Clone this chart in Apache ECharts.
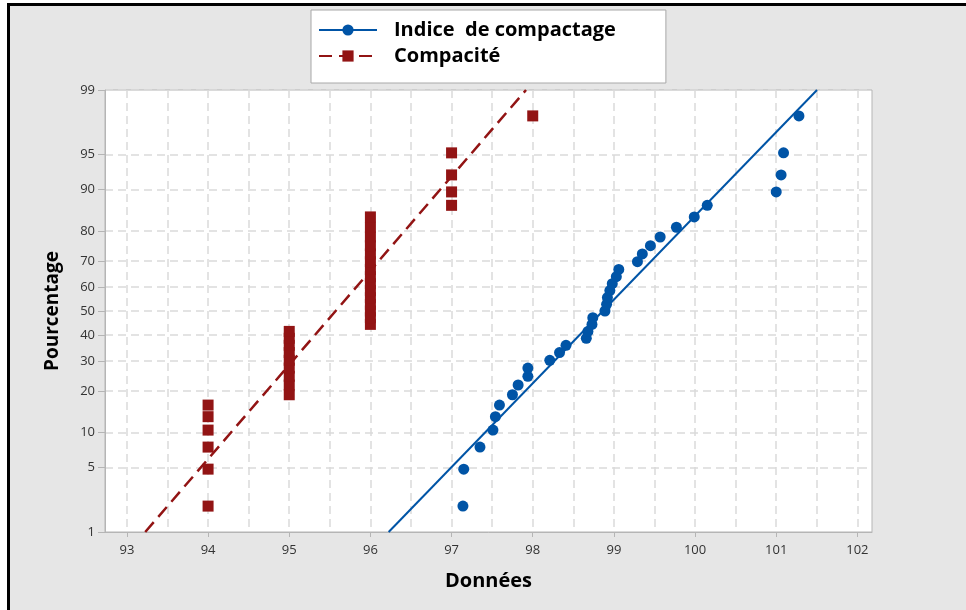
<!DOCTYPE html>
<html>
<head>
<meta charset="utf-8">
<script src="https://cdn.jsdelivr.net/npm/echarts@6/dist/echarts.min.js"></script>
<style>
  html, body { margin: 0; padding: 0; background: #fff; }
  #chart { width: 966px; height: 610px; }
</style>
</head>
<body>
<div id="chart"></div>
<script>
// Probability plot (normal) - two samples of 35 values
var nomIndice = "Indice  de compactage";
var nomCompacite = "Compacité";

// plotting positions in % (same for both samples, n = 35)
var pourcentage = [2.0, 4.8, 7.6, 10.5, 13.3, 16.1, 18.9, 21.8, 24.6, 27.4,
    30.2, 33.1, 35.9, 38.7, 41.5, 44.4, 47.2, 50.0, 52.8, 55.6,
    58.5, 61.3, 64.1, 66.9, 69.8, 72.6, 75.4, 78.2, 81.1, 83.9,
    86.7, 89.5, 92.4, 95.2, 98.0];

var indiceValues = [97.14, 97.15, 97.35, 97.51, 97.54, 97.59, 97.75, 97.82, 97.94, 97.94,
    98.21, 98.33, 98.41, 98.66, 98.68, 98.73, 98.74, 98.89, 98.91, 98.92,
    98.95, 98.98, 99.03, 99.06, 99.29, 99.35, 99.45, 99.57, 99.77, 99.99,
    100.15, 101.00, 101.06, 101.09, 101.28];

var compaciteValues = [94, 94, 94, 94, 94, 94,
    95, 95, 95, 95, 95, 95, 95, 95, 95,
    96, 96, 96, 96, 96, 96, 96, 96, 96, 96, 96, 96, 96, 96, 96,
    97, 97, 97, 97,
    98];

var yTickLabels = [1, 5, 10, 20, 30, 40, 50, 60, 70, 80, 90, 95, 99];
var xTickLabels = [93, 94, 95, 96, 97, 98, 99, 100, 101, 102];
var xGridValues = [93, 93.5, 94, 94.5, 95, 95.5, 96, 96.5, 97, 97.5, 98, 98.5,
    99, 99.5, 100, 100.5, 101, 101.5, 102];

var bleu = "#0054a6";
var rouge = "#921414";
var police = "Open Sans";

// inverse of the standard normal cdf (Acklam)
function probit(p) {
    var a = [-3.969683028665376e+01, 2.209460984245205e+02, -2.759285104469687e+02,
        1.383577518672690e+02, -3.066479806614716e+01, 2.506628277459239e+00];
    var b = [-5.447609879822406e+01, 1.615858368580409e+02, -1.556989798598866e+02,
        6.680131188771972e+01, -1.328068155288572e+01];
    var c = [-7.784894002430293e-03, -3.223964580411365e-01, -2.400758277161838e+00,
        -2.549671667300212e+00, 4.374664141464968e+00, 2.938163982698783e+00];
    var d = [7.784695709041462e-03, 3.224671290700398e-01, 2.445134137142996e+00,
        3.754408661907416e+00];
    var pLow = 0.02425, q, r;
    if (p < pLow) {
        q = Math.sqrt(-2 * Math.log(p));
        return (((((c[0] * q + c[1]) * q + c[2]) * q + c[3]) * q + c[4]) * q + c[5]) /
            ((((d[0] * q + d[1]) * q + d[2]) * q + d[3]) * q + 1);
    }
    if (p > 1 - pLow) {
        q = Math.sqrt(-2 * Math.log(1 - p));
        return -(((((c[0] * q + c[1]) * q + c[2]) * q + c[3]) * q + c[4]) * q + c[5]) /
            ((((d[0] * q + d[1]) * q + d[2]) * q + d[3]) * q + 1);
    }
    q = p - 0.5;
    r = q * q;
    return (((((a[0] * r + a[1]) * r + a[2]) * r + a[3]) * r + a[4]) * r + a[5]) * q /
        (((((b[0] * r + b[1]) * r + b[2]) * r + b[3]) * r + b[4]) * r + 1);
}

var yTicks = yTickLabels.map(function (p) { return probit(p / 100); });
var zMin = yTicks[0];
var zMax = yTicks[yTicks.length - 1];

function points(values) {
    return values.map(function (v, i) { return [v, probit(pourcentage[i] / 100)]; });
}

// fitted normal line: x = mean + z * sd
function fitLine(values) {
    var n = values.length, m = 0, s = 0;
    values.forEach(function (v) { m += v; });
    m = m / n;
    values.forEach(function (v) { s += (v - m) * (v - m); });
    s = Math.sqrt(s / (n - 1));
    return [[m + zMin * s, zMin], [m + zMax * s, zMax]];
}

var chart = echarts.init(document.getElementById("chart"), null, { renderer: "canvas" });

var option = {
    animation: false,
    backgroundColor: "#e6e6e6",
    textStyle: { fontFamily: police },
    graphic: [
        { type: "rect", shape: { x: 0, y: 0, width: 966, height: 3 }, style: { fill: "#fff" }, silent: true },
        { type: "rect", shape: { x: 0, y: 0, width: 7, height: 610 }, style: { fill: "#fff" }, silent: true },
        { type: "rect", shape: { x: 7, y: 3, width: 959, height: 3 }, style: { fill: "#000" }, silent: true },
        { type: "rect", shape: { x: 7, y: 3, width: 3, height: 607 }, style: { fill: "#000" }, silent: true }
    ],
    legend: {
        orient: "vertical",
        left: 311,
        top: 10,
        data: [nomIndice, nomCompacite],
        itemWidth: 58,
        itemHeight: 14,
        itemGap: 6,
        padding: [10, 50, 17, 7],
        backgroundColor: "#fff",
        borderColor: "#a8a8a8",
        borderWidth: 1,
        selectedMode: false,
        textStyle: {
            fontFamily: police,
            fontWeight: "bold",
            fontSize: 20,
            color: "#000",
            lineHeight: 20,
            padding: [0, 0, 0, 12]
        }
    },
    grid: {
        left: 105,
        top: 90,
        width: 767,
        height: 442,
        show: true,
        backgroundColor: "#fff",
        borderColor: "#b5b5b5",
        borderWidth: 1
    },
    xAxis: [{
        type: "value",
        min: 92.73,
        max: 102.18,
        name: "Données",
        nameLocation: "middle",
        nameGap: 39,
        nameTextStyle: { fontFamily: police, fontWeight: "bold", fontSize: 20, color: "#000" },
        axisLine: { show: true, onZero: false, lineStyle: { color: "#b5b5b5" } },
        axisTick: { show: true, length: 5, customValues: xTickLabels, lineStyle: { color: "#b5b5b5" } },
        axisLabel: { customValues: xTickLabels, margin: 12, fontSize: 13, color: "#333", fontFamily: police },
        splitLine: { show: false }
    }, {
        type: "value",
        min: 92.73,
        max: 102.18,
        position: "top",
        axisLine: { show: false, onZero: false },
        axisTick: { show: false, customValues: xGridValues },
        axisLabel: { show: false },
        splitLine: { show: true, lineStyle: { color: "#dadada", width: 1.5, type: [8, 5] } }
    }],
    yAxis: {
        type: "value",
        min: zMin,
        max: zMax,
        name: "Pourcentage",
        nameLocation: "middle",
        nameGap: 43,
        nameTextStyle: { fontFamily: police, fontWeight: "bold", fontSize: 19, color: "#000" },
        axisLine: { show: true, onZero: false, lineStyle: { color: "#b5b5b5" } },
        axisTick: { show: true, length: 7, customValues: yTicks, lineStyle: { color: "#b5b5b5" } },
        axisLabel: {
            customValues: yTicks,
            margin: 10,
            fontSize: 13,
            color: "#333",
            fontFamily: police,
            formatter: function (v) {
                for (var i = 0; i < yTicks.length; i++) {
                    if (Math.abs(yTicks[i] - v) < 1e-6) { return String(yTickLabels[i]); }
                }
                return "";
            }
        },
        splitLine: { show: true, lineStyle: { color: "#dadada", width: 1.5, type: [8, 5] } }
    },
    series: [{
        name: nomIndice,
        type: "line",
        xAxisIndex: 0,
        data: fitLine(indiceValues),
        symbol: "circle",
        showSymbol: false,
        itemStyle: { color: bleu },
        lineStyle: { color: bleu, width: 2 },
        silent: true,
        z: 2
    }, {
        name: nomCompacite,
        type: "line",
        xAxisIndex: 0,
        data: fitLine(compaciteValues),
        symbol: "rect",
        showSymbol: false,
        itemStyle: { color: rouge },
        lineStyle: { color: rouge, width: 2.5, type: [13, 7] },
        silent: true,
        z: 2
    }, {
        name: nomIndice,
        type: "scatter",
        xAxisIndex: 0,
        data: points(indiceValues),
        symbol: "circle",
        symbolSize: 11,
        itemStyle: { color: bleu, opacity: 1 },
        z: 3
    }, {
        name: nomCompacite,
        type: "scatter",
        xAxisIndex: 0,
        data: points(compaciteValues),
        symbol: "rect",
        symbolSize: 11,
        itemStyle: { color: rouge, opacity: 1 },
        z: 3
    }]
};

chart.setOption(option);
</script>
</body>
</html>
